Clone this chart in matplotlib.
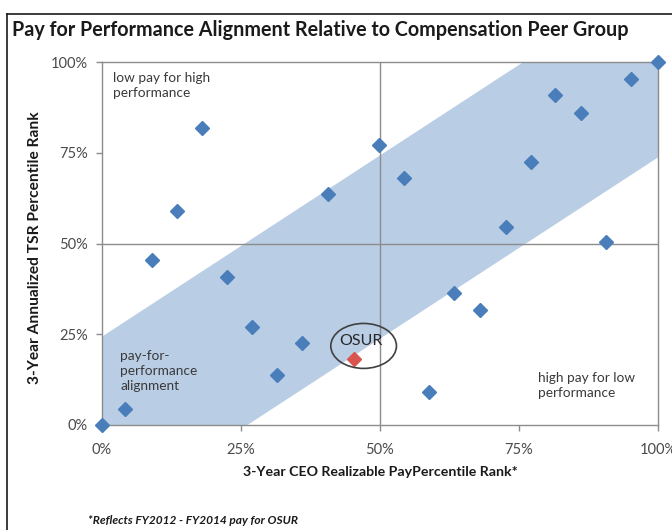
import numpy as np
import matplotlib
matplotlib.use("Agg")
import matplotlib.pyplot as plt
from matplotlib.patches import Ellipse
from matplotlib.lines import Line2D
from matplotlib.ticker import FuncFormatter

# ---- data (percent) ----
peer_pay = [0, 4.3, 9.0, 13.5, 18.0, 22.6, 27.1, 31.6, 36.1, 40.7, 49.8, 54.4,
            58.9, 63.3, 68.0, 72.6, 77.1, 81.5, 86.2, 90.7, 95.2, 100]
peer_tsr = [0, 4.3, 45.5, 59.0, 81.9, 40.9, 27.1, 13.8, 22.7, 63.6, 77.3, 68.1,
            9.0, 36.3, 31.7, 54.5, 72.5, 90.9, 86.1, 50.5, 95.3, 100]
osur_pay = [45.3]
osur_tsr = [18.2]
osur_label = "OSUR"
band_upper_offset = 24.5
band_lower_offset = -26.0
ticks = [0, 25, 50, 75, 100]

title = "Pay for Performance Alignment Relative to Compensation Peer Group"
xlabel = "3-Year CEO Realizable PayPercentile Rank*"
ylabel = "3-Year Annualized TSR Percentile Rank"
footnote = "*Reflects FY2012 - FY2014 pay for OSUR"
txt_tl = "low pay for high\nperformance"
txt_bl = "pay-for-\nperformance\nalignment"
txt_br = "high pay for low\nperformance"

plt.rcParams['font.family'] = ['Lato', 'DejaVu Sans']

W, H = 672, 530
fig = plt.figure(figsize=(W / 100, H / 100), dpi=100)
ax = fig.add_axes([101.5 / W, 1 - 425 / H, (658 - 101.5) / W, (425 - 62.3) / H])

# band
bx = np.array([0, -band_lower_offset, 100 - band_upper_offset, 100])
lower = np.clip(bx + band_lower_offset, 0, 100)
upper = np.clip(bx + band_upper_offset, 0, 100)
ax.fill_between(bx, lower, upper, color='#b9cde5', lw=0, zorder=1)

# 50% lines
ax.axhline(50, color='#8c8c8c', lw=1.0, zorder=2)
ax.axvline(50, color='#8c8c8c', lw=1.0, zorder=2)

ax.plot(peer_pay, peer_tsr, ls='none', marker='D', ms=7.2, color='#4a7ebb',
        mec='#4a7ebb', clip_on=False, zorder=4)
ax.plot(osur_pay, osur_tsr, ls='none', marker='D', ms=7.2, color='#d9534f',
        mec='#d9534f', clip_on=False, zorder=4)

ell = Ellipse((osur_pay[0] + 1.8, osur_tsr[0] + 3.6), 11.8, 12.4, fill=False,
              ec='#404040', lw=1.2, zorder=5)
ax.add_patch(ell)
ax.text(osur_pay[0] + 1.3, osur_tsr[0] + 5.0, osur_label, ha='center', va='center',
        fontsize=11.5, color='#262626', zorder=6)

ax.set_xlim(0, 100)
ax.set_ylim(0, 100)
ax.set_xticks(ticks)
ax.set_yticks(ticks)
fmt = FuncFormatter(lambda v, p: f"{int(v)}%")
ax.xaxis.set_major_formatter(fmt)
ax.yaxis.set_major_formatter(fmt)
for s in ax.spines.values():
    s.set_color('#8c8c8c')
    s.set_linewidth(1.0)
ax.tick_params(axis='both', direction='out', length=4, width=1, color='#8c8c8c',
               labelsize=10.5, labelcolor='#4a4a4a')
ax.tick_params(axis='x', pad=9)
ax.tick_params(axis='y', pad=6)

tc = '#3a3a3a'
ax.text(2.0, 97.3, txt_tl, ha='left', va='top', fontsize=9.8, color=tc, linespacing=1.3)
ax.text(3.4, 20.8, txt_bl, ha='left', va='top', fontsize=9.8, color=tc, linespacing=1.3)
ax.text(78.5, 14.6, txt_br, ha='left', va='top', fontsize=9.8, color=tc, linespacing=1.3)

fig.text(12 / W, 1 - 30 / H, title, ha='left', va='center', fontsize=14.2,
         fontweight='bold', color='#1a1a1a')
fig.text(380 / W, 1 - 472 / H, xlabel, ha='center', va='center', fontsize=10.2,
         fontweight='bold', color='#1a1a1a')
fig.text(35 / W, 1 - 248 / H, ylabel, ha='center', va='center', rotation=90,
         fontsize=11.2, fontweight='bold', color='#1a1a1a')
fig.text(88 / W, 1 - 521 / H, footnote, ha='left', va='center', fontsize=8.6,
         fontweight='bold', style='italic', color='#1a1a1a')

# outer frame
fig.add_artist(Line2D([7 / W, 7 / W], [0, 1 - 14 / H], transform=fig.transFigure,
                      color='#1a1a1a', lw=1.2))
fig.add_artist(Line2D([7 / W, 1.0], [1 - 14 / H, 1 - 14 / H], transform=fig.transFigure,
                      color='#1a1a1a', lw=1.2))

fig.savefig("out.png", dpi=100)
